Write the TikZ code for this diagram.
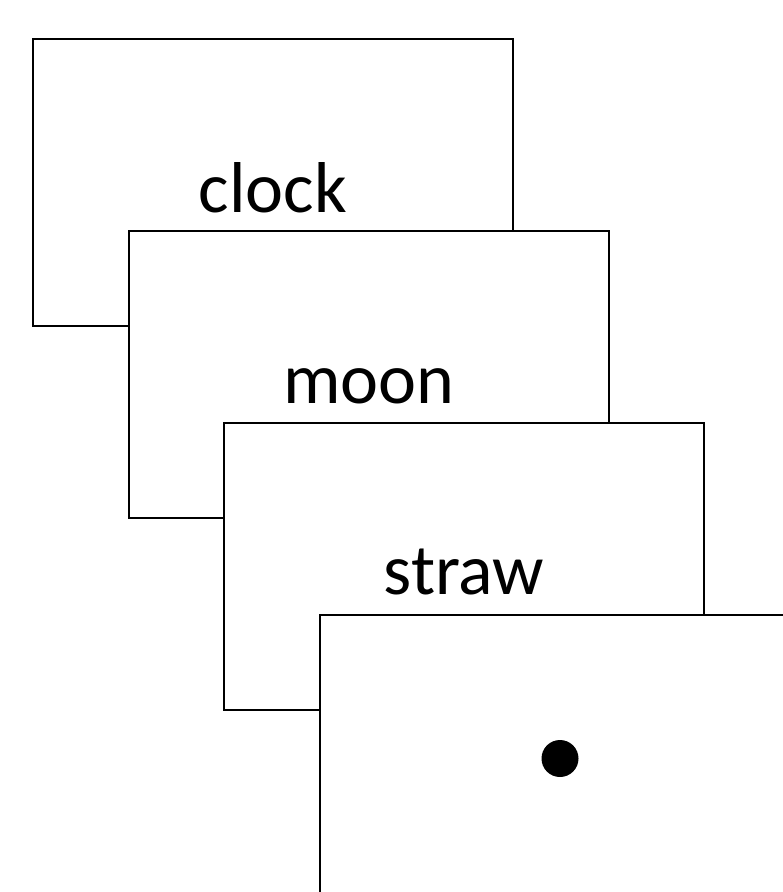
\documentclass[tikz,border=0pt]{standalone}
\usepackage{fontspec}
\setmainfont{Carlito}
\usetikzlibrary{calc}
\tikzset{
  card/.style={draw=black, fill=white, line width=2pt, inner sep=0pt,
    minimum width=480pt, minimum height=287pt, anchor=north west},
  word/.style={anchor=base, inner sep=0pt, font=\fontsize{72}{86}\selectfont}
}
\begin{document}
\begin{tikzpicture}[x=1pt, y=-1pt]
  \useasboundingbox (0,0) rectangle (783,892);
  \clip (0,0) rectangle (783,892);
  % stacked cards, each one overlapping the previous
  \node[card] (c1) at (32,38) {};
  \node[word] (w1) at ($(c1.north)+(0,174)$) {clock};
  \node[card] (c2) at (128,230) {};
  \node[word] (w2) at ($(c2.north)+(0,173)$) {moon};
  \node[card] (c3) at (223,422) {};
  \node[word] (w3) at ($(c3.north)+(0,172)$) {straw};
  \node[card] (c4) at (319,614) {};
  % fixation dot in the centre of the last card
  \fill (c4.center) circle (18.5);
\end{tikzpicture}
\end{document}
